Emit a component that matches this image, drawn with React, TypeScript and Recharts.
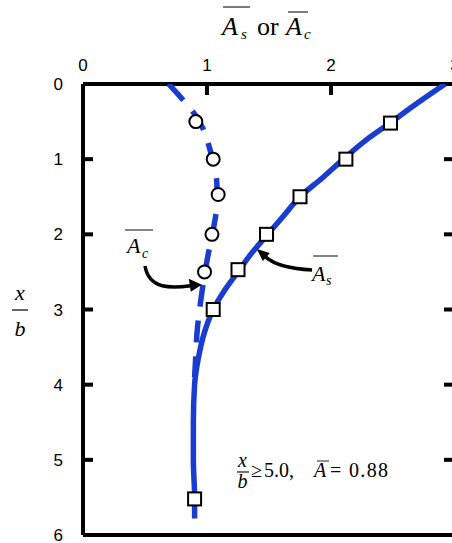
import React from "react";
import {
  ScatterChart,
  Scatter,
  XAxis,
  YAxis,
  ReferenceLine,
} from "recharts";

// page has default 8px margin; drop it so the chart sits in page coordinates
document.body.style.margin = "0";

// A_s curve (solid) and A_c curve (dashed): value vs depth x/b
const asCurveValue = [2.92, 2.7, 2.45, 2.28, 2.1, 1.93, 1.75, 1.62, 1.49, 1.36, 1.25, 1.14, 1.05, 0.98, 0.93, 0.9, 0.89, 0.89, 0.9, 0.9];
const asCurveDepth = [0, 0.25, 0.55, 0.75, 1.0, 1.25, 1.5, 1.75, 2.0, 2.25, 2.5, 2.75, 3.0, 3.3, 3.65, 4.0, 4.5, 5.0, 5.5, 5.78];
const acCurveValue = [0.69, 0.8, 0.9, 0.97, 1.02, 1.06, 1.08, 1.08, 1.06, 1.03, 1.0, 0.97, 0.94, 0.92, 0.91, 0.9];
const acCurveDepth = [0, 0.2, 0.4, 0.6, 0.85, 1.1, 1.35, 1.6, 1.85, 2.1, 2.35, 2.65, 3.0, 3.3, 3.6, 3.9];

// measured points
const asPointValue = [2.48, 2.12, 1.75, 1.48, 1.25, 1.05, 0.9];
const asPointDepth = [0.52, 1.0, 1.5, 2.0, 2.47, 3.0, 5.52];
const acPointValue = [0.91, 1.05, 1.09, 1.04, 0.98];
const acPointDepth = [0.5, 1.0, 1.47, 2.0, 2.5];

const xTicks = [0, 1, 2, 3];
const yTicks = [0, 1, 2, 3, 4, 5, 6];

const BLUE = "#1a3ccf";
const W = 465;
const H = 543;
const PLOT_LEFT = 83;
const PLOT_TOP = 84;
const PLOT_W = 372;
const PLOT_H = 451;
const X_MAX = 3;

const px = (v: number) => PLOT_LEFT + (v / 3) * PLOT_W;
const py = (d: number) => PLOT_TOP + (d / 6) * PLOT_H;

const zip = (vals: number[], depths: number[]) =>
  vals.map((a, i) => ({ a, d: depths[i] }));

const asCurve = zip(asCurveValue, asCurveDepth);
const acCurve = zip(acCurveValue, acCurveDepth);
const asPoints = zip(asPointValue, asPointDepth);
const acPoints = zip(acPointValue, acPointDepth);

// inward tick length on the right frame, in data units (~11px)
const rightTickLen = (11 / PLOT_W) * X_MAX;

const NoMark = () => <g />;
const SquareMark = (props: any) => (
  <rect
    x={props.cx - 6.5}
    y={props.cy - 6.5}
    width={13}
    height={13}
    fill="#fff"
    stroke="#000"
    strokeWidth={2}
  />
);
const CircleMark = (props: any) => (
  <circle cx={props.cx} cy={props.cy} r={6.5} fill="#fff" stroke="#000" strokeWidth={2} />
);

const tickFont = { fill: "#000", fontSize: 17, fontFamily: "Liberation Sans, Arial, sans-serif" };
const serif = "Liberation Serif, Times New Roman, serif";

function Annotations() {
  const acTip = { x: px(0.95), y: py(2.67) };
  const asTip = { x: px(1.41), y: py(2.21) };
  return (
    <svg
      width={452}
      height={543}
      style={{ position: "absolute", left: 0, top: 0, pointerEvents: "none", fontFamily: serif }}
    >
      {/* title */}
      <line x1={223} x2={250} y1={7} y2={7} stroke="#333" strokeWidth={1.3} />
      <text x={222} y={35} fontSize={26} fontStyle="italic">A</text>
      <text x={241} y={39} fontSize={15} fontStyle="italic">s</text>
      <text x={257} y={35} fontSize={26}>or</text>
      <line x1={288} x2={308} y1={12} y2={12} stroke="#333" strokeWidth={1.3} />
      <text x={286} y={35} fontSize={26} fontStyle="italic">A</text>
      <text x={304} y={39} fontSize={15} fontStyle="italic">c</text>

      {/* y label x/b */}
      <text x={20} y={300} fontSize={22} fontStyle="italic" textAnchor="middle">x</text>
      <line x1={12} x2={28} y1={310} y2={310} stroke="#000" strokeWidth={1.2} />
      <text x={20} y={336} fontSize={22} fontStyle="italic" textAnchor="middle">b</text>

      {/* A_c label + arrow */}
      <line x1={125} x2={153} y1={230} y2={230} stroke="#333" strokeWidth={1.2} />
      <text x={127} y={253} fontSize={22} fontStyle="italic">A</text>
      <text x={142} y={258} fontSize={14} fontStyle="italic">c</text>
      <path
        d={`M145,266 C149,290 172,288 ${acTip.x - 10},${acTip.y + 1}`}
        fill="none"
        stroke="#000"
        strokeWidth={3.5}
      />
      <polygon
        points={`${acTip.x + 1},${acTip.y} ${acTip.x - 12},${acTip.y - 6} ${acTip.x - 10},${acTip.y + 7}`}
        fill="#000"
      />

      {/* A_s label + arrow */}
      <line x1={313} x2={338} y1={256} y2={256} stroke="#333" strokeWidth={1.2} />
      <text x={312} y={281} fontSize={22} fontStyle="italic">A</text>
      <text x={326} y={285} fontSize={14} fontStyle="italic">s</text>
      <path
        d={`M312,270 C294,269 276,266 ${asTip.x + 8},${asTip.y + 7}`}
        fill="none"
        stroke="#000"
        strokeWidth={3.5}
      />
      <polygon
        points={`${asTip.x - 1},${asTip.y - 1} ${asTip.x + 5},${asTip.y + 11} ${asTip.x + 12},${asTip.y + 3}`}
        fill="#000"
      />

      {/* x/b >= 5.0 note */}
      <text x={242.5} y={467} fontSize={20} fontStyle="italic" textAnchor="middle">x</text>
      <line x1={237} x2={249} y1={472} y2={472} stroke="#000" strokeWidth={1.1} />
      <text x={242.5} y={488} fontSize={20} fontStyle="italic" textAnchor="middle">b</text>
      <text x={251} y={477} fontSize={20}>≥</text>
      <text x={264} y={477} fontSize={20}>5.0,</text>
      <line x1={317} x2={329} y1={461} y2={461} stroke="#333" strokeWidth={1.1} />
      <text x={314} y={477} fontSize={20} fontStyle="italic">A</text>
      <text x={330} y={477} fontSize={20} textLength={58}>= 0.88</text>
    </svg>
  );
}

export default function App() {
  return (
    <div style={{ position: "relative", width: 452, height: 543, overflow: "hidden", background: "#fff" }}>
      <ScatterChart width={W} height={H} margin={{ top: 54, right: 10, bottom: 8, left: 0 }}>
        <XAxis
          type="number"
          dataKey="a"
          orientation="top"
          domain={[0, X_MAX]}
          ticks={xTicks}
          interval={0}
          allowDataOverflow
          height={30}
          axisLine={{ stroke: "#000", strokeWidth: 4 }}
          tickLine={{ stroke: "#000", strokeWidth: 4 }}
          tickSize={-11}
          tickMargin={24}
          tick={tickFont}
        />
        <YAxis
          type="number"
          dataKey="d"
          domain={[0, 6]}
          reversed
          ticks={yTicks}
          interval={0}
          allowDataOverflow
          width={PLOT_LEFT}
          axisLine={{ stroke: "#000", strokeWidth: 4 }}
          tickLine={{ stroke: "#000", strokeWidth: 4 }}
          tickSize={-10}
          tickMargin={30}
          tick={tickFont}
        />
        <ReferenceLine y={6} stroke="#000" strokeWidth={4} ifOverflow="visible" />
        <ReferenceLine x={X_MAX} stroke="#000" strokeWidth={4} ifOverflow="visible" />
        {yTicks.map((t) => (
          <ReferenceLine
            key={`rt-${t}`}
            segment={[
              { x: X_MAX - rightTickLen, y: t },
              { x: X_MAX, y: t },
            ]}
            stroke="#000"
            strokeWidth={4}
            ifOverflow="visible"
          />
        ))}
        <Scatter
          data={asCurve}
          fill={BLUE}
          line={{ stroke: BLUE, strokeWidth: 5.5 }}
          lineJointType="monotoneY"
          shape={NoMark}
          isAnimationActive={false}
        />
        <Scatter
          data={acCurve}
          fill={BLUE}
          line={{ stroke: BLUE, strokeWidth: 5.5, strokeDasharray: "22 14" }}
          lineJointType="monotoneY"
          shape={NoMark}
          isAnimationActive={false}
        />
        <Scatter data={acPoints} fill="#fff" shape={CircleMark} isAnimationActive={false} />
        <Scatter data={asPoints} fill="#fff" shape={SquareMark} isAnimationActive={false} />
      </ScatterChart>
      <Annotations />
    </div>
  );
}
